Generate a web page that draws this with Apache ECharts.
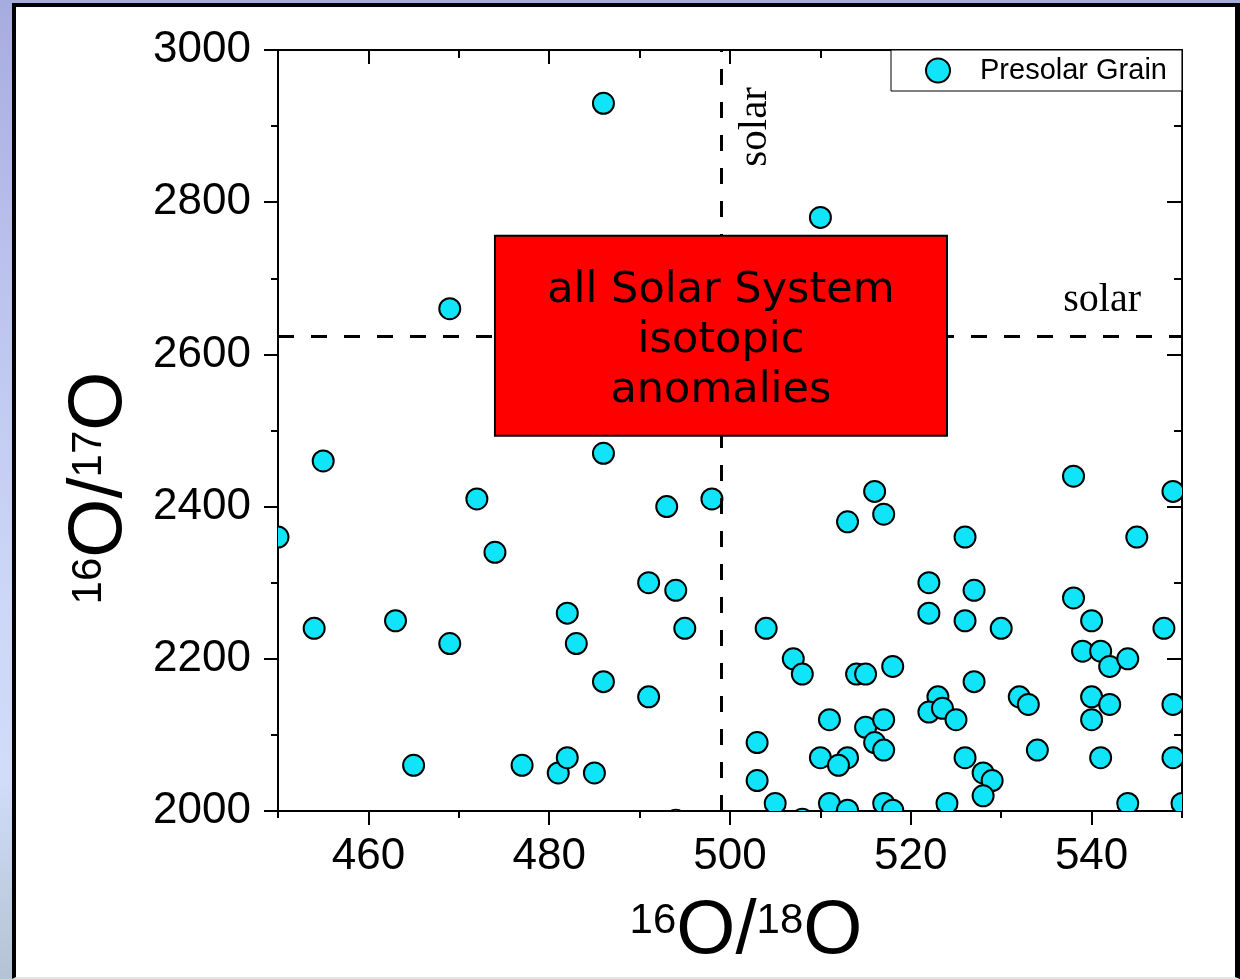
<!DOCTYPE html>
<html>
<head>
<meta charset="utf-8">
<script src="https://cdn.jsdelivr.net/npm/echarts@6/dist/echarts.min.js"></script>
<style>
html,body{margin:0;padding:0;width:1240px;height:979px;overflow:hidden;
  background:linear-gradient(to bottom,#a7acde 0%,#bcc4ee 30%,#ccd6f6 60%,#d0dcf8 80%,#b3c3d3 100%);}
#frame{position:absolute;left:12px;top:3px;width:1228px;height:976px;box-sizing:border-box;background:#fff;
  border-left:4px solid #000;border-top:4px solid #000;border-right:5px solid #000;border-bottom:2px solid #e4e4e4;}
#chart{position:absolute;left:0;top:0;width:1240px;height:979px;}
</style>
</head>
<body>
<div id="frame"></div>
<div id="chart"></div>
<script>
// ---- data ----
const grainX = [486, 510, 469, 455, 486, 472, 493, 498, 450, 474, 538, 549, 516, 513, 517, 545,
  454, 463, 469, 482, 483, 465, 477, 481, 482, 485,
  491, 494, 495, 486, 491, 494, 504, 507, 508, 514, 515, 518, 511, 515, 517, 516, 517, 503,
  510, 513, 512, 503, 505, 508, 509.5, 511, 513, 517, 518,
  526, 522, 527, 522, 526, 530, 538, 540, 548, 539, 541, 542, 544, 527, 523, 522, 523.5, 525,
  532, 533, 540, 542, 540, 549, 526, 528, 529, 528, 534, 541, 549, 524, 544, 550];
const grainY = [2930, 2780, 2660, 2460, 2470, 2410, 2400, 2410, 2360, 2340, 2440, 2420, 2420, 2380, 2390, 2360,
  2240, 2250, 2220, 2260, 2220, 2060, 2060, 2050, 2070, 2050,
  2300, 2290, 2240, 2170, 2150, 1988, 2240, 2200, 2180, 2180, 2180, 2190, 2120, 2110, 2120, 2090, 2080, 2090,
  2070, 2070, 2060, 2040, 2010, 1989, 1986, 2010, 2001, 2010, 2001,
  2360, 2300, 2290, 2260, 2250, 2240, 2280, 2250, 2240, 2210, 2210, 2190, 2200, 2170, 2150, 2130, 2135, 2120,
  2150, 2140, 2150, 2140, 2120, 2140, 2070, 2050, 2040, 2020, 2080, 2070, 2070, 2010, 2010, 2010];
const seriesName = 'Presolar Grain';
const solarX = 499;
const solarY = 2624;
const solarLabel = 'solar';
const boxX = [474, 524];
const boxY = [2493, 2756];
const boxText = ['all Solar System', 'isotopic', 'anomalies'];
const xTickLabels = [460, 480, 500, 520, 540];
const yTickLabels = [2000, 2200, 2400, 2600, 2800, 3000];
const xName = ['16', 'O/', '18', 'O'];
const yName = ['16', 'O/', '17', 'O'];

// ---- chart ----
const BLACK = '#000';
const CYAN = '#0fe4f8';
const SANS = '"Liberation Sans", Arial, sans-serif';
const SERIF = '"Liberation Serif", "Times New Roman", serif';
const lineSt = {color: BLACK, width: 2};
const nameRich = {
  s: {fontFamily: SANS, fontSize: 42, color: BLACK, verticalAlign: 'top', lineHeight: 44, padding: [8, 0, 0, 0]},
  b: {fontFamily: SANS, fontSize: 76, color: BLACK, lineHeight: 80}
};
function richName(parts) {
  return '{s|' + parts[0] + '}{b|' + parts[1] + '}{s|' + parts[2] + '}{b|' + parts[3] + '}';
}
function plain(v) { return String(v); }
function axisBase(min, max, extra) {
  return Object.assign({
    type: 'value', min: min, max: max, scale: false,
    splitLine: {show: false}, minorTick: {show: false},
    axisLine: {show: false, onZero: false, lineStyle: lineSt},
    axisLabel: {show: false},
    axisTick: {show: false}
  }, extra);
}

const chart = echarts.init(document.getElementById('chart'), null, {renderer: 'canvas'});
const option = {
  animation: false,
  backgroundColor: 'transparent',
  grid: {left: 278, right: 58, top: 50, bottom: 168, containLabel: false, outerBoundsMode: 'none'},
  legend: {
    show: true, data: [seriesName], left: 891, top: 50, orient: 'horizontal',
    icon: 'circle', itemWidth: 24, itemHeight: 24, itemGap: 0,
    padding: [6, 15, 6, 34], borderColor: BLACK, borderWidth: 1, backgroundColor: '#fff',
    itemStyle: {color: CYAN, borderColor: BLACK, borderWidth: 2},
    textStyle: {fontFamily: SANS, fontSize: 29, color: BLACK, padding: [0, 0, 0, 25]},
    selectedMode: false
  },
  xAxis: [
    axisBase(450, 550, {
      position: 'bottom', interval: 10,
      axisLine: {show: true, onZero: false, lineStyle: lineSt},
      axisTick: {show: true, inside: false, length: 7, lineStyle: lineSt},
      axisLabel: {show: true, customValues: xTickLabels, formatter: plain, margin: 24, fontFamily: SANS, fontSize: 44, color: BLACK},
      name: richName(xName), nameLocation: 'middle', nameGap: 81,
      nameTextStyle: {rich: nameRich, padding: [0, 0, 0, 32]}
    }),
    axisBase(450, 550, {
      position: 'bottom', interval: 10,
      axisTick: {show: true, inside: false, length: 14, customValues: xTickLabels, lineStyle: lineSt}
    }),
    axisBase(450, 550, {
      position: 'top', interval: 10,
      axisLine: {show: true, onZero: false, lineStyle: lineSt},
      axisTick: {show: true, inside: true, length: 8, lineStyle: lineSt}
    }),
    axisBase(450, 550, {
      position: 'top', interval: 10,
      axisTick: {show: true, inside: true, length: 14, customValues: xTickLabels, lineStyle: lineSt}
    })
  ],
  yAxis: [
    axisBase(2000, 3000, {
      position: 'left', interval: 100,
      axisLine: {show: true, onZero: false, lineStyle: lineSt},
      axisTick: {show: true, inside: false, length: 7, lineStyle: lineSt},
      axisLabel: {show: true, customValues: yTickLabels, formatter: plain, margin: 27, fontFamily: SANS, fontSize: 44, color: BLACK},
      name: richName(yName), nameLocation: 'middle', nameGap: 138, nameRotate: 90,
      nameTextStyle: {rich: nameRich, padding: [0, 115, 0, 0]}
    }),
    axisBase(2000, 3000, {
      position: 'left', interval: 100,
      axisTick: {show: true, inside: false, length: 14, customValues: yTickLabels, lineStyle: lineSt}
    }),
    axisBase(2000, 3000, {
      position: 'right', interval: 100,
      axisLine: {show: true, onZero: false, lineStyle: lineSt},
      axisTick: {show: true, inside: true, length: 8, lineStyle: lineSt}
    }),
    axisBase(2000, 3000, {
      position: 'right', interval: 100,
      axisTick: {show: true, inside: true, length: 15, customValues: yTickLabels, lineStyle: lineSt}
    })
  ],
  series: [{
    type: 'custom',
    name: seriesName,
    coordinateSystem: 'cartesian2d',
    xAxisIndex: 0, yAxisIndex: 0,
    data: grainX.map(function (x, i) { return [x, grainY[i]]; }),
    encode: {x: 0, y: 1},
    clip: true, z: 3,
    itemStyle: {color: CYAN, borderColor: BLACK, borderWidth: 2},
    renderItem: function (params, api) {
      const p = api.coord([api.value(0), api.value(1)]);
      return {type: 'circle', shape: {cx: p[0], cy: p[1], r: 10.5},
        style: {fill: CYAN, stroke: BLACK, lineWidth: 2}};
    },
    emphasis: {disabled: true},
    markLine: {
      silent: true, z: 5, animation: false, symbol: ['none', 'none'],
      lineStyle: {color: BLACK, width: 3, type: [16, 17], opacity: 1},
      emphasis: {disabled: true},
      data: [
        {xAxis: solarX, label: {show: true, formatter: solarLabel, position: 'insideEndBottom', distance: [37, 14],
          fontFamily: SERIF, fontSize: 41, color: BLACK}},
        {yAxis: solarY, label: {show: true, formatter: solarLabel, position: 'insideEndTop', distance: [41, 16],
          fontFamily: SERIF, fontSize: 40, color: BLACK}}
      ]
    },
    markArea: {
      silent: true, z: 10,
      itemStyle: {color: '#ff0000', borderColor: BLACK, borderWidth: 2, opacity: 1},
      emphasis: {disabled: true},
      label: {show: true, position: 'inside', formatter: boxText.join('\n'), offset: [0, 5],
        fontFamily: '"DejaVu Sans", Verdana, sans-serif', fontSize: 43, lineHeight: 50, color: BLACK, align: 'center'},
      data: [[{coord: [boxX[0], boxY[1]]}, {coord: [boxX[1], boxY[0]]}]]
    }
  }]
};
chart.setOption(option);
</script>
</body>
</html>
